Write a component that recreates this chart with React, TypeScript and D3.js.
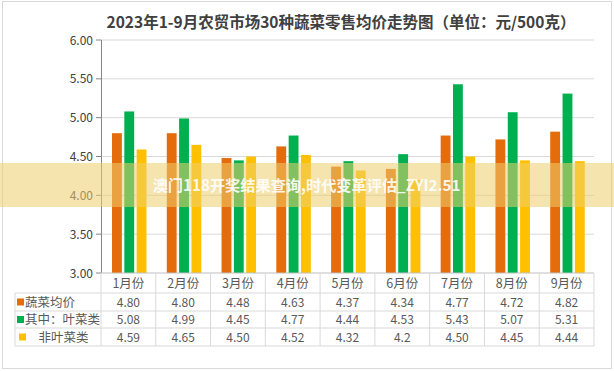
import React from 'react';
import * as d3 from 'd3';

const months = ['1月份', '2月份', '3月份', '4月份', '5月份', '6月份', '7月份', '8月份', '9月份'];
const seriesNames = ['蔬菜均价', '其中：叶菜类', '　非叶菜类'];
const seriesColors = ['#E46C0A', '#00B050', '#FFC000'];
const avgPrice = [4.80, 4.80, 4.48, 4.63, 4.37, 4.34, 4.77, 4.72, 4.82];
const leafy = [5.08, 4.99, 4.45, 4.77, 4.44, 4.53, 5.43, 5.07, 5.31];
const nonLeafy = [4.59, 4.65, 4.50, 4.52, 4.32, 4.2, 4.50, 4.45, 4.44];
const tableText = [
  ['4.80', '4.80', '4.48', '4.63', '4.37', '4.34', '4.77', '4.72', '4.82'],
  ['5.08', '4.99', '4.45', '4.77', '4.44', '4.53', '5.43', '5.07', '5.31'],
  ['4.59', '4.65', '4.50', '4.52', '4.32', '4.2', '4.50', '4.45', '4.44'],
];
const yTicks = [3.0, 3.5, 4.0, 4.5, 5.0, 5.5, 6.0];

const font = '"Noto Sans CJK SC", "Noto Sans", sans-serif';

export default function App() {
  const width = 614;
  const height = 371;
  const left = 101;
  const right = 594;
  const top = 40;
  const bottom = 273;
  const tableLeft = 15;
  const rowLines = [273, 293, 311, 328, 346];

  const series = [avgPrice, leafy, nonLeafy];

  const x = d3.scaleBand<string>().domain(months).range([left, right]);
  const xInner = d3.scaleBand<number>().domain([0, 1, 2]).range([11, 45.5]).paddingInner(0.2);
  const y = d3.scaleLinear().domain([3, 6]).range([bottom, top]);

  return (
    <svg width={width} height={height} style={{ position: 'absolute', left: 0, top: 0 }} fontFamily={font}>
      <rect x={0} y={0} width={width} height={height} fill="#fff" />
      <rect x={2.5} y={1.5} width={609} height={367} fill="none" stroke="#d9d9d9" />
      <text x={341} y={28} textAnchor="middle" fontSize={15.5} fontWeight="bold" fill="#404040">
        2023年1-9月农贸市场30种蔬菜零售均价走势图（单位：元/500克）
      </text>

      {/* grid + y axis */}
      {yTicks.map(t => (
        <g key={t}>
          {t > 3 && <line x1={left} x2={right} y1={y(t)} y2={y(t)} stroke="#d9d9d9" />}
          <line x1={96} x2={left} y1={y(t)} y2={y(t)} stroke="#868686" />
          <text x={93} y={y(t) + 4.5} textAnchor="end" fontSize={12} fill="#404040">{t.toFixed(2)}</text>
        </g>
      ))}
      <line x1={left + 0.5} x2={left + 0.5} y1={top} y2={bottom} stroke="#868686" />

      {/* bars */}
      {series.map((vals, si) =>
        vals.map((v, i) => (
          <rect
            key={`${si}-${i}`}
            x={(x(months[i]) as number) + (xInner(si) as number)}
            y={y(v)}
            width={xInner.bandwidth()}
            height={bottom - y(v)}
            fill={seriesColors[si]}
          />
        ))
      )}

      {/* data table */}
      <line x1={left} x2={right} y1={bottom} y2={bottom} stroke="#bfbfbf" />
      {rowLines.slice(1).map(r => (
        <line key={r} x1={tableLeft} x2={right} y1={r} y2={r} stroke="#d9d9d9" />
      ))}
      {months.map(m => (
        <line key={m} x1={(x(m) as number) + x.bandwidth()} x2={(x(m) as number) + x.bandwidth()} y1={bottom} y2={rowLines[4]} stroke="#d9d9d9" />
      ))}
      <line x1={left} x2={left} y1={bottom} y2={rowLines[4]} stroke="#d9d9d9" />
      <line x1={tableLeft} x2={tableLeft} y1={rowLines[1]} y2={rowLines[4]} stroke="#d9d9d9" />
      {months.map(m => (
        <text key={m} x={(x(m) as number) + x.bandwidth() / 2} y={288} textAnchor="middle" fontSize={12.5} fill="#595959">{m}</text>
      ))}
      {tableText.map((row, ri) =>
        row.map((t, i) => (
          <text key={`${ri}-${i}`} x={(x(months[i]) as number) + x.bandwidth() / 2} y={(rowLines[ri + 1] + rowLines[ri + 2]) / 2 + 4.5} textAnchor="middle" fontSize={12} fill="#595959">{t}</text>
        ))
      )}
      {seriesNames.map((n, ri) => {
        const cy = (rowLines[ri + 1] + rowLines[ri + 2]) / 2;
        return (
          <g key={n}>
            <rect x={ri === 2 ? 19 : 17} y={cy - 3.5} width={7} height={7} fill={seriesColors[ri]} />
            <text x={ri === 2 ? 26 : 25} y={cy + 4.5} fontSize={12.5} fill="#595959">{n}</text>
          </g>
        );
      })}

      {/* watermark band */}
      <rect x={0} y={163} width={width} height={44} fill="rgba(238, 205, 110, 0.55)" />
      <text x={306.5} y={191} textAnchor="middle" fontSize={15.2} fontWeight="bold" fill="#fff" fillOpacity={0.9}>
        澳门118开奖结果查询,时代变革评估_ZYI2.51
      </text>
    </svg>
  );
}
